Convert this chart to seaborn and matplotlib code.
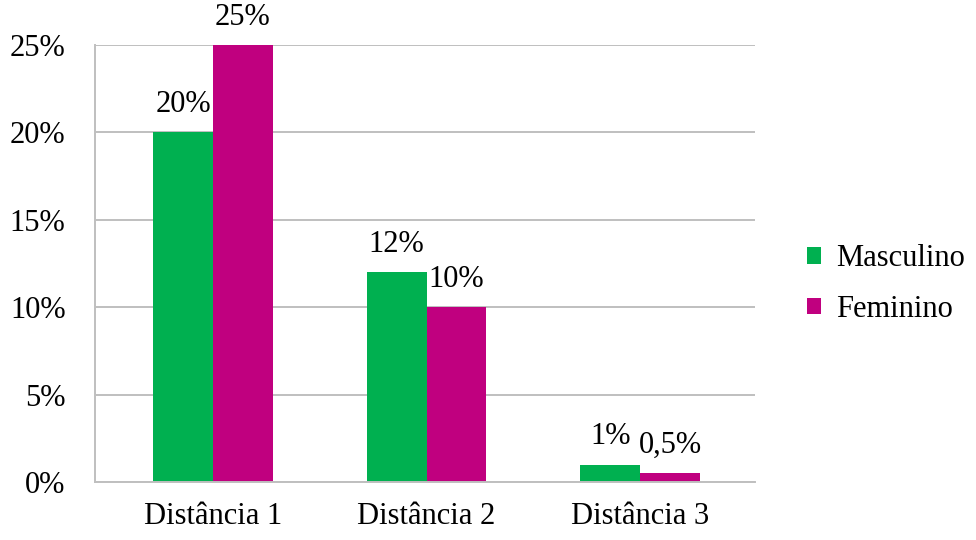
import pandas as pd
import matplotlib.pyplot as plt
import seaborn as sns

categorias = ["Distância 1", "Distância 2", "Distância 3"]
masculino = [20, 12, 1]
feminino = [25, 10, 0.5]
rotulos_m = ["20%", "12%", "1%"]
rotulos_f = ["25%", "10%", "0,5%"]
yticks = [0, 5, 10, 15, 20, 25]

df = pd.DataFrame({
    "cat": categorias * 2,
    "valor": masculino + feminino,
    "sexo": ["Masculino"] * 3 + ["Feminino"] * 3,
})

sns.set_theme(style="white")
plt.rcParams["font.family"] = ["Liberation Serif", "DejaVu Serif"]
plt.rcParams["text.color"] = "black"
fs = 22

fig = plt.figure(figsize=(9.76, 5.4), dpi=100)
ax = fig.add_axes([0.097, 0.107, 0.677, 0.81])

sns.barplot(data=df, x="cat", y="valor", hue="sexo", ax=ax,
            palette={"Masculino": "#00B050", "Feminino": "#C0007F"},
            width=0.56, saturation=1, edgecolor="none")

ax.set_ylim(0, 25)
ax.set_xlim(-0.554, 2.54)
ax.set_yticks(yticks)
ax.set_yticklabels([f"{v}%" for v in yticks], fontsize=fs, color="black")
ax.tick_params(axis="x", labelsize=fs, colors="black", pad=14, length=0)
ax.tick_params(axis="y", pad=21, length=0)
ax.set_xlabel("")
ax.set_ylabel("")
ax.yaxis.grid(True, color="#BFBFBF", linewidth=1.4)
ax.set_axisbelow(True)
for s in ["top", "right"]:
    ax.spines[s].set_visible(False)
for s in ["left", "bottom"]:
    ax.spines[s].set_color("#BFBFBF")
    ax.spines[s].set_linewidth(1.4)

# rotulos de dados
for cont, rot in zip(ax.containers, [rotulos_m, rotulos_f]):
    for barra, txt in zip(cont, rot):
        ax.annotate(txt, (barra.get_x() + barra.get_width() / 2, barra.get_height()),
                    xytext=(0, 20), textcoords="offset points",
                    ha="center", va="center", fontsize=fs, color="black",
                    annotation_clip=False)

leg = ax.legend(loc="center left", bbox_to_anchor=(1.078, 0.453), frameon=False,
                fontsize=fs, handlelength=0.46, handleheight=0.46, labelspacing=0.7,
                handletextpad=0.5, borderpad=0, borderaxespad=0)
for t in leg.get_texts():
    t.set_color("black")

fig.savefig("out.png", dpi=100)
